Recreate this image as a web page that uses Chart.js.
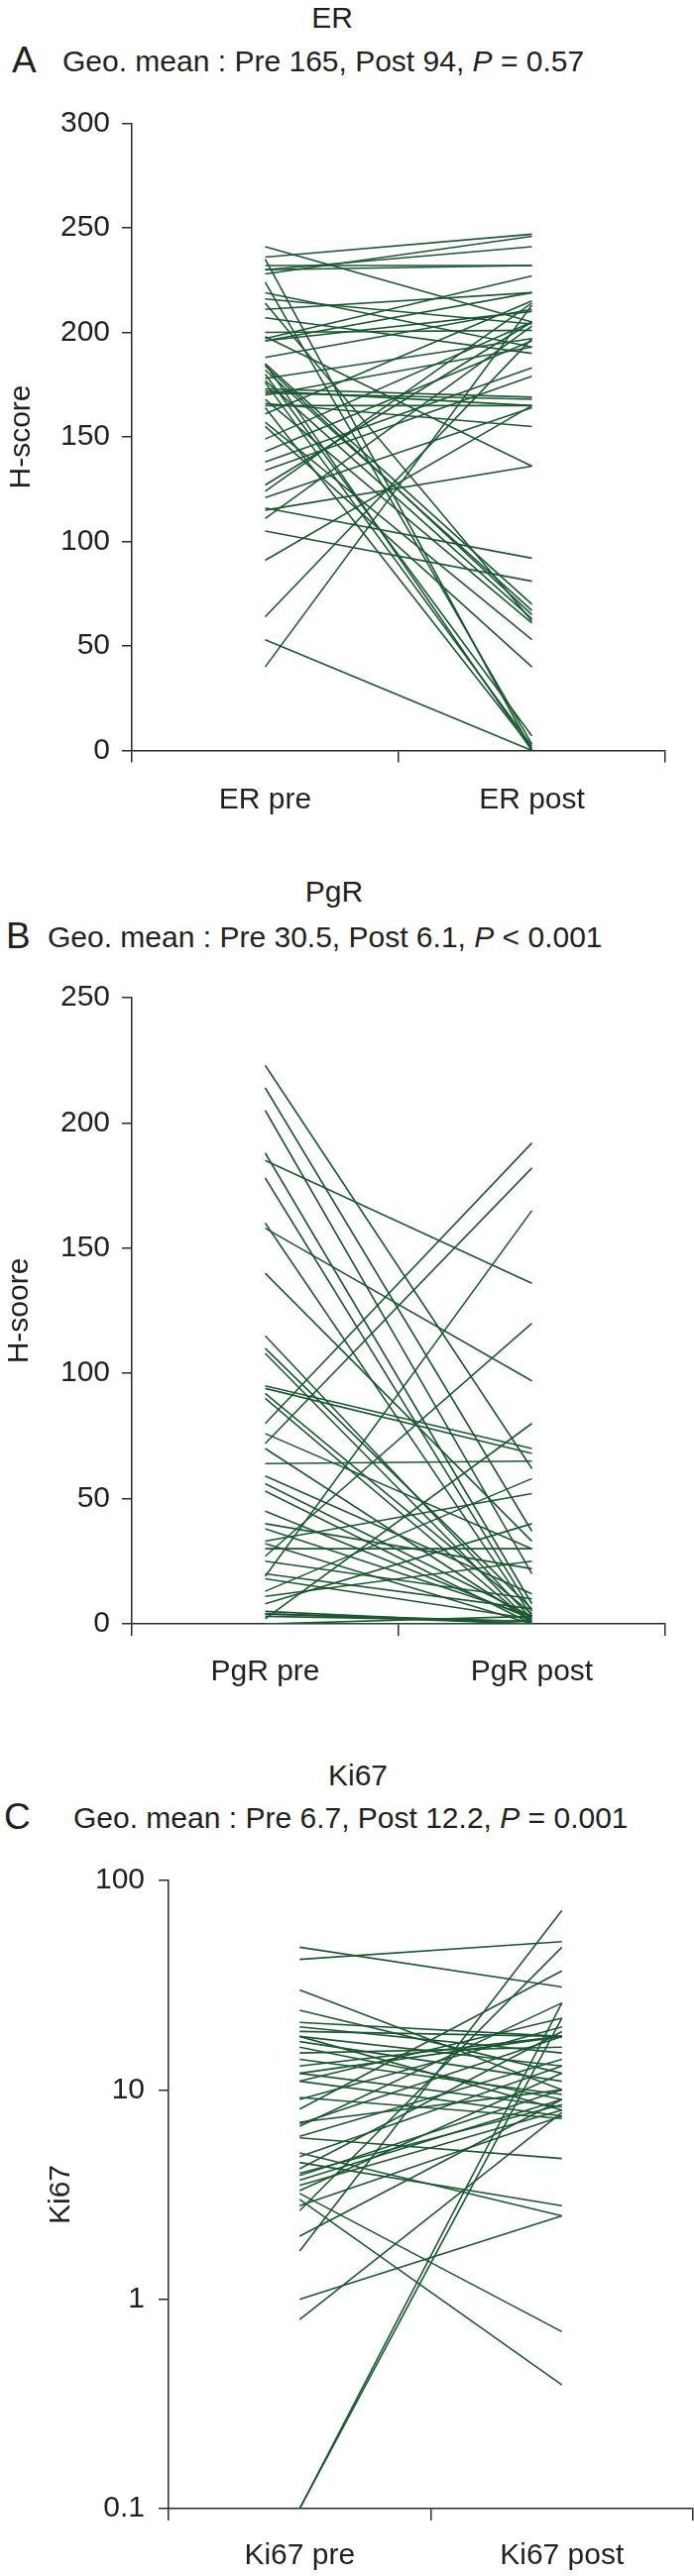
<!DOCTYPE html>
<html>
<head>
<meta charset="utf-8">
<script src="https://cdn.jsdelivr.net/npm/chart.js@4"></script>
<style>
  html, body { margin: 0; padding: 0; background: #fff; }
  #page { position: relative; width: 700px; height: 2600px; font-family: "Liberation Sans", Arial, sans-serif; color: #231f20; }
  canvas { position: absolute; left: 0; }
  .t { position: absolute; font-size: 30px; line-height: 30px; white-space: nowrap; transform: translateY(-50%); }
  .c { transform: translate(-50%, -50%); }
  .big { font-size: 37px; line-height: 37px; }
</style>
</head>
<body>
<div id="page">
  <div class="t c" style="left:335px;top:18px">ER</div>
  <div class="t big" style="left:12px;top:60px">A</div>
  <div class="t" style="left:63px;top:62px">Geo. mean : Pre 165, Post 94, <i>P</i> = 0.57</div>

  <div class="t c" style="left:337px;top:900px">PgR</div>
  <div class="t big" style="left:6px;top:944px">B</div>
  <div class="t" style="left:48px;top:946px">Geo. mean : Pre 30.5, Post 6.1, <i>P</i> &lt; 0.001</div>

  <div class="t c" style="left:361px;top:1792px">Ki67</div>
  <div class="t big" style="left:4px;top:1833px">C</div>
  <div class="t" style="left:74px;top:1835px">Geo. mean : Pre 6.7, Post 12.2, <i>P</i> = 0.001</div>

  <canvas id="chartA" width="700" height="770" style="top:80px"></canvas>
  <canvas id="chartB" width="700" height="760" style="top:960px"></canvas>
  <canvas id="chartC" width="700" height="750" style="top:1850px"></canvas>
</div>
<script>
// paired values, one line per patient (pre -> post)
const erLabels = ['ER pre', 'ER post'];
const erPre  = [241, 236, 235, 232, 230, 228, 224, 219, 216, 214, 211, 207, 197, 196, 196, 188, 185, 184, 180, 178, 176, 173, 172, 171, 168, 166, 164, 161, 157, 155, 149, 143, 138, 134, 127, 124, 121, 116, 115, 111, 105, 91, 64, 53, 40, 185, 170, 200, 230, 165, 182, 177, 198];
const erPost = [205, 247, 0, 232, 241, 246, 3, 193, 204, 62, 219, 190, 227, 219, 210, 211, 70, 65, 7, 197, 2, 169, 165, 168, 61, 155, 1, 215, 53, 40, 205, 196, 183, 179, 205, 214, 164, 92, 136, 203, 81, 165, 197, 0, 213, 0, 193, 201, 232, 165, 67, 63, 136];
const erTicks = [0, 50, 100, 150, 200, 250, 300];

const pgrLabels = ['PgR pre', 'PgR post'];
const pgrPre  = [223, 214, 205, 188, 185, 178, 160, 158, 140, 115, 110, 108, 95, 94, 92, 90, 80, 76, 72, 64, 59, 56, 53, 40, 33, 32, 27, 19, 18, 13, 11, 8, 5, 4, 4, 2, 0, 0, 30, 3, 25, 45, 70, 38, 20];
const pgrPost = [62, 37, 20, 8, 136, 5, 3, 97, 33, 2, 6, 0, 70, 68, 4, 0, 192, 30, 182, 65, 12, 3, 0, 22, 52, 0, 120, 165, 2, 58, 25, 40, 0, 1, 0, 80, 0, 3, 30, 1, 10, 2, 1, 3, 6];
const pgrTicks = [0, 50, 100, 150, 200, 250];

const kiLabels = ['Ki67 pre', 'Ki67 post'];
const kiPre  = [48, 42, 30, 24, 21, 19, 18, 16, 14, 13, 12, 11, 9.2, 8.1, 6.9, 6.7, 5.9, 4.8, 4.5, 4.2, 3.9, 3.5, 3.2, 3.0, 2.65, 2.0, 1.7, 1.0, 0.8, 0.1, 0.1, 18, 17, 20, 12, 7, 4, 3.3, 2.8, 5, 15, 11, 6, 3.7, 9];
const kiPost = [31, 51, 10, 12, 18, 18, 13, 9, 9.5, 18, 8.3, 22, 7.3, 37, 18, 26, 4.7, 13, 2.8, 19, 10, 8, 0.7, 0.39, 48, 9, 72, 2.5, 7.8, 26, 22, 8, 11, 15, 18, 10, 8.5, 12, 7.5, 2.5, 16, 7.5, 14, 9, 20];
const kiTicks = [0.1, 1, 10, 100];

const lineColor = '#1b5831';
const axisColor = '#2b2b2b';
const textColor = '#231f20';
const fontFamily = '"Liberation Sans", Arial, sans-serif';

function makeChart(id, labels, pre, post, box, yScale) {
  const canvas = document.getElementById(id);
  const datasets = pre.map((v, i) => ({
    data: [v, post[i]],
    borderColor: lineColor,
    borderWidth: 1.6,
    pointRadius: 0,
    fill: false,
    tension: 0
  }));
  yScale.grid = { drawOnChartArea: false, drawTicks: true, tickLength: 10, color: axisColor, lineWidth: 1.5 };
  yScale.border = { display: true, color: axisColor, width: 1.5 };
  yScale.ticks = Object.assign({ color: textColor, font: { family: fontFamily, size: 30 }, padding: 12 }, yScale.ticks || {});
  yScale.afterFit = s => { s.width = box.plotLeft; };
  return new Chart(canvas, {
    type: 'line',
    data: { labels: labels, datasets: datasets },
    options: {
      responsive: false,
      animation: false,
      events: [],
      layout: { padding: { top: box.plotTop - box.top, right: 700 - box.plotRight, left: 0, bottom: 0 } },
      plugins: { legend: { display: false }, tooltip: { enabled: false } },
      scales: {
        x: {
          type: 'category',
          offset: true,
          grid: { offset: true, drawOnChartArea: false, drawTicks: true, tickLength: 12, color: axisColor, lineWidth: 1.5 },
          border: { display: true, color: axisColor, width: 1.5 },
          ticks: { color: textColor, font: { family: fontFamily, size: 30 }, padding: box.labelPad, maxRotation: 0, autoSkip: false },
          afterFit: s => { s.height = box.top + box.height - box.plotBottom; }
        },
        y: yScale
      }
    }
  });
}

makeChart('chartA', erLabels, erPre, erPost,
  { top: 80, height: 770, plotTop: 124.5, plotBottom: 757.5, plotLeft: 133, plotRight: 671, labelPad: 20 },
  {
    type: 'linear', min: 0, max: 300,
    afterBuildTicks: s => { s.ticks = erTicks.map(v => ({ value: v })); },
    title: { display: true, text: 'H-score', color: textColor, font: { family: fontFamily, size: 30 }, padding: { top: 4, bottom: 0 } }
  });

makeChart('chartB', pgrLabels, pgrPre, pgrPost,
  { top: 960, height: 760, plotTop: 1007, plotBottom: 1639, plotLeft: 133, plotRight: 671, labelPad: 19 },
  {
    type: 'linear', min: 0, max: 250,
    afterBuildTicks: s => { s.ticks = pgrTicks.map(v => ({ value: v })); },
    title: { display: true, text: 'H-soore', color: textColor, font: { family: fontFamily, size: 30 }, padding: { top: 2, bottom: 0 } }
  });

makeChart('chartC', kiLabels, kiPre, kiPost,
  { top: 1850, height: 750, plotTop: 1898, plotBottom: 2532, plotLeft: 170, plotRight: 699, labelPad: 18 },
  {
    type: 'logarithmic', min: 0.1, max: 100,
    afterBuildTicks: s => { s.ticks = kiTicks.map(v => ({ value: v })); },
    ticks: { padding: 14, callback: v => String(v) },
    title: { display: true, text: 'Ki67', color: textColor, font: { family: fontFamily, size: 30 }, padding: { top: 44, bottom: 0 } }
  });
</script>
</body>
</html>
